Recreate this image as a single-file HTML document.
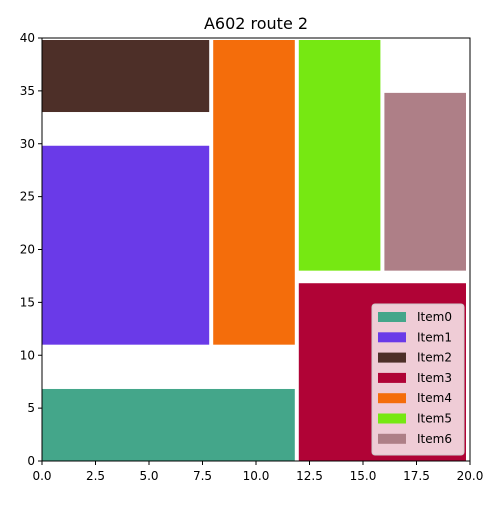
<!DOCTYPE html>
<html><head><meta charset="utf-8"><style>
body{margin:0;background:#fff;font-family:"Liberation Sans","DejaVu Sans",sans-serif}
svg text{font-family:"DejaVu Sans","Liberation Sans",sans-serif}
</style></head><body>
<svg id="chart" width="500" height="500" viewBox="0 0 500 500" xmlns="http://www.w3.org/2000/svg">
<text x="256" y="29" font-size="16" text-anchor="middle">A602 route 2</text>
<g id="marks"></g>
<rect x="42" y="38" width="428" height="423" fill="none" stroke="#000" stroke-width="1"/>
<g id="axes"></g>
<g id="legend"></g>
</svg>
<script>
const names=["Item0","Item1","Item2","Item3","Item4","Item5","Item6"];
const x0s=[0,0,0,12,8,12,16];
const x1s=[12,8,8,20,12,16,20];
const y0s=[0,11,33,0,11,18,18];
const y1s=[7,30,40,17,40,40,35];
const colors=["#44a68a","#6a3ae8","#4d2f28","#b00336","#f46d0b","#76e812","#ae7f87"];
const xTicks=[0,2.5,5,7.5,10,12.5,15,17.5,20];
const xTickLabels=["0.0","2.5","5.0","7.5","10.0","12.5","15.0","17.5","20.0"];
const yTicks=[0,5,10,15,20,25,30,35,40];
const NS="http://www.w3.org/2000/svg";
const X=v=>42+v*428/20, Y=v=>461-v*423/40;
function mk(t,a,p){const e=document.createElementNS(NS,t);for(const k in a)e.setAttribute(k,a[k]);p.appendChild(e);return e;}
const marks=document.getElementById('marks');
names.forEach((n,i)=>{
 const l=X(x0s[i]),r=X(x1s[i])-4,t=Y(y1s[i])+2,b=Y(y0s[i]);
 const e=mk('rect',{x:l,y:t,width:Math.max(0,r-l),height:Math.max(0,b-t),fill:colors[i]},marks);
 
 
});
const axes=document.getElementById('axes');
xTicks.forEach((v,i)=>{
 const l=mk('line',{x1:X(v),x2:X(v),y1:461,y2:465,stroke:'#000'},axes);
 
 
 const t=mk('text',{x:X(v),y:480,'font-size':12,'text-anchor':'middle'},axes);
 
 
 t.textContent=xTickLabels[i];
});
yTicks.forEach(v=>{
 const l=mk('line',{x1:38,x2:42,y1:Y(v),y2:Y(v),stroke:'#000'},axes);
 
 
 const t=mk('text',{x:35,y:Y(v)+4,'font-size':12,'text-anchor':'end'},axes);
 
 
 t.textContent=v;
});
const lg=document.getElementById('legend');
const box=mk('rect',{x:372,y:304,width:92,height:151,rx:3,fill:'#fff','fill-opacity':0.8,stroke:'#ccc'},lg);


names.forEach((n,i)=>{
 const y=316+i*20.3;
 const s=mk('rect',{x:378,y:y-4,width:28,height:10,fill:colors[i]},lg);
 
 
 const t=mk('text',{x:417,y:y+5,'font-size':12},lg);
 
 
 t.textContent=n;
});
</script>
</body></html>
